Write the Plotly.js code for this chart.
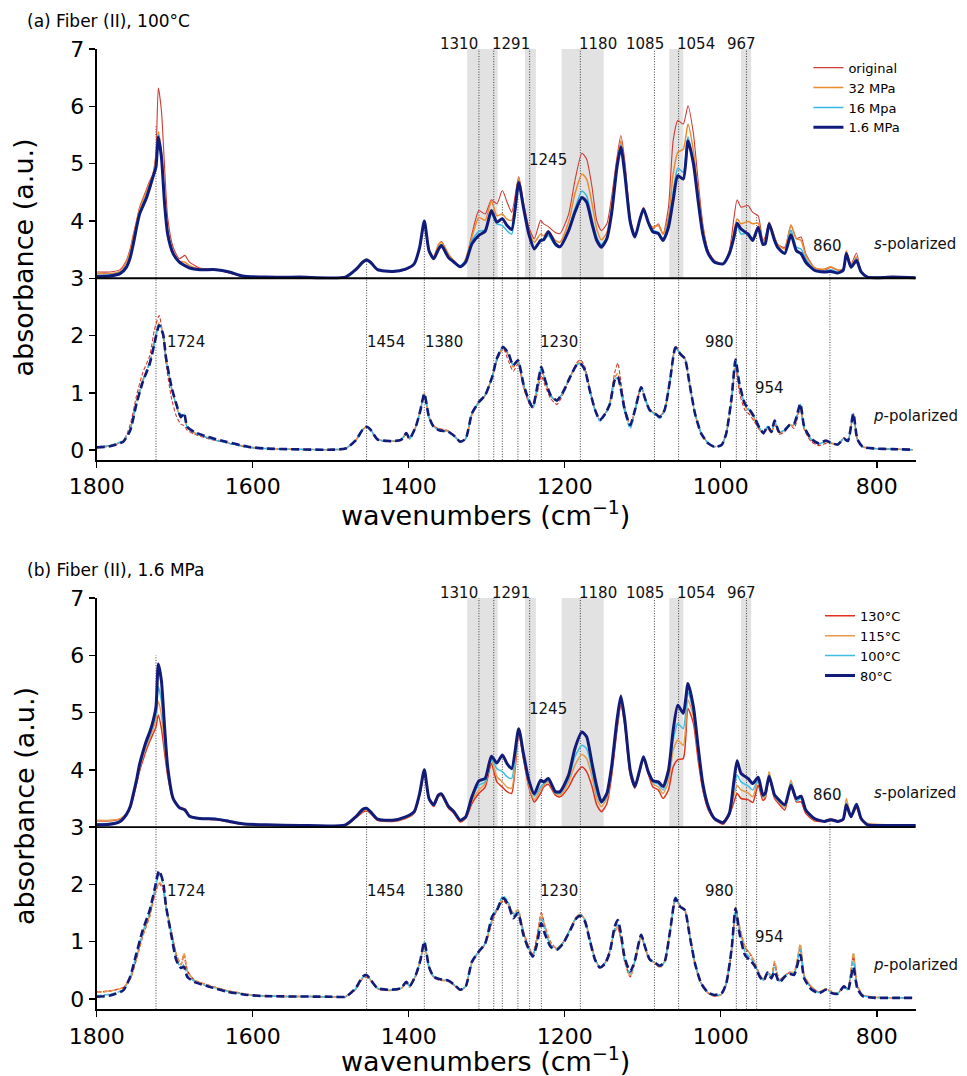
<!DOCTYPE html>
<html>
<head>
<meta charset="utf-8">
<script src="https://cdn.plot.ly/plotly-3.0.1.min.js"></script>
<style>html,body{margin:0;padding:0;background:#fff;}#chart{width:967px;height:1076px;}</style>
</head>
<body>
<div id="chart"></div>
<script>
// ---------- DATA ----------
const wavenumbersS = [
1800,1783,1770,1762,1757,1753,1749,1745,1740,1736,
1732,1728,1724,1721,1717,1713,1709,1702,1694,1687,
1681,1668,1647,1630,1613,1583,1540,1481,1468,1459,
1454,1449,1440,1421,1404,1393,1386,1380,1374,1368,
1362,1358,1349,1342,1334,1327,1319,1310,1302,1294,
1287,1280,1274,1268,1259,1253,1246,1239,1231,1227,
1221,1212,1206,1195,1187,1178,1172,1165,1159,1153,
1146,1140,1133,1128,1123,1116,1110,1104,1099,1093,
1087,1080,1074,1067,1061,1055,1048,1042,1035,1029,
1023,1016,1008,997,989,983,979,974,965,959,
952,946,943,938,931,927,918,910,903,897,
891,880,867,859,850,843,839,833,826,820,
812,800,780,750];

const wavenumbersP = [
1800,1783,1766,1757,1749,1741,1732,1726,1720,1715,
1711,1704,1698,1692,1688,1684,1675,1657,1634,1606,
1583,1498,1481,1468,1459,1454,1449,1440,1425,1410,
1403,1399,1391,1385,1380,1374,1368,1361,1349,1340,
1334,1327,1319,1310,1302,1293,1287,1279,1272,1266,
1260,1253,1246,1241,1236,1230,1225,1218,1210,1202,
1193,1185,1180,1174,1168,1161,1155,1148,1142,1136,
1132,1128,1123,1116,1110,1102,1097,1091,1084,1078,
1072,1065,1058,1052,1046,1040,1033,1025,1016,1008,
999,993,986,981,976,969,963,957,950,945,
940,935,931,925,918,912,906,898,893,884,
874,865,859,850,842,837,830,825,818,803,
780,754];

// (a) Fiber (II), 100 °C — s-polarized absorbance
const aS_original = [
0.11,0.11,0.15,0.31,0.52,0.77,1.00,1.24,1.42,1.56,
1.70,1.82,2.20,3.32,2.92,1.94,1.06,0.54,0.34,0.40,
0.28,0.18,0.15,0.09,0.03,0.02,0.02,0.02,0.16,0.30,
0.34,0.30,0.16,0.11,0.15,0.24,0.53,0.98,0.50,0.38,
0.58,0.64,0.42,0.31,0.20,0.31,0.77,1.18,1.12,1.37,
1.30,1.53,1.33,1.15,1.77,1.33,0.89,0.69,1.01,0.95,
0.90,0.80,0.78,1.12,1.70,2.18,2.08,1.59,1.01,0.83,
0.95,1.41,2.11,2.49,2.05,1.06,0.73,1.01,1.24,0.98,
0.86,0.95,0.77,1.24,2.40,2.75,2.69,3.01,2.52,1.70,
0.95,0.48,0.31,0.25,0.48,1.06,1.37,1.24,1.27,1.15,
1.09,0.66,0.72,0.96,0.72,0.59,0.54,0.93,0.69,0.72,
0.43,0.19,0.14,0.19,0.14,0.16,0.45,0.25,0.44,0.11,
0.02,0.02,0.02,0.01];
const aS_32MPa = [
0.08,0.08,0.12,0.28,0.48,0.72,0.97,1.20,1.38,1.52,
1.66,1.80,2.10,2.55,2.20,1.40,0.85,0.46,0.30,0.28,
0.22,0.16,0.15,0.10,0.03,0.02,0.02,0.02,0.15,0.30,
0.33,0.29,0.15,0.11,0.15,0.24,0.53,0.98,0.50,0.37,
0.58,0.63,0.42,0.30,0.19,0.34,0.72,1.06,1.01,1.35,
1.09,1.12,1.03,1.01,1.73,1.30,0.83,0.63,0.77,0.74,
0.83,0.66,0.63,0.98,1.47,1.82,1.73,1.30,0.86,0.67,
0.80,1.27,2.02,2.40,1.94,1.01,0.73,1.01,1.23,0.98,
0.89,0.92,0.77,1.06,1.82,2.20,2.25,2.69,2.22,1.53,
0.89,0.46,0.30,0.25,0.46,0.83,1.04,0.95,0.99,0.95,
0.96,0.63,0.66,0.98,0.72,0.59,0.51,0.93,0.69,0.66,
0.40,0.18,0.16,0.20,0.15,0.16,0.48,0.22,0.37,0.11,
0.03,0.02,0.02,0.01];
const aS_16MPa = [
0.05,0.06,0.10,0.22,0.40,0.64,0.92,1.15,1.32,1.45,
1.62,1.78,1.98,2.50,2.15,1.35,0.80,0.44,0.28,0.22,
0.18,0.15,0.15,0.11,0.04,0.02,0.02,0.02,0.15,0.29,
0.33,0.28,0.15,0.12,0.16,0.25,0.54,1.00,0.48,0.34,
0.52,0.59,0.37,0.29,0.22,0.31,0.66,0.82,0.84,1.12,
0.95,0.92,0.83,0.77,1.67,1.24,0.80,0.54,0.66,0.67,
0.74,0.57,0.54,0.86,1.21,1.52,1.44,1.03,0.72,0.59,
0.72,1.18,1.97,2.33,1.85,0.98,0.72,1.01,1.21,0.98,
0.84,0.80,0.69,0.98,1.50,1.92,1.85,2.47,2.02,1.41,
0.80,0.44,0.28,0.25,0.43,0.72,0.92,0.77,0.79,0.69,
0.88,0.60,0.61,0.96,0.66,0.54,0.44,0.84,0.54,0.51,
0.34,0.15,0.12,0.15,0.11,0.13,0.44,0.20,0.34,0.11,
0.02,0.02,0.02,0.01];
const aS_1p6MPa = [
0.03,0.04,0.08,0.19,0.36,0.60,0.88,1.12,1.28,1.41,
1.58,1.76,1.94,2.46,2.11,1.30,0.77,0.43,0.28,0.22,
0.18,0.15,0.15,0.11,0.04,0.02,0.02,0.02,0.15,0.28,
0.32,0.28,0.15,0.12,0.16,0.25,0.54,1.00,0.48,0.34,
0.50,0.57,0.36,0.28,0.20,0.28,0.60,0.75,0.82,1.18,
0.98,1.04,0.92,0.85,1.67,1.24,0.77,0.51,0.66,0.67,
0.81,0.60,0.55,0.83,1.15,1.41,1.33,0.95,0.66,0.54,
0.69,1.12,1.94,2.29,1.82,0.98,0.72,1.01,1.21,0.98,
0.81,0.78,0.66,0.89,1.36,1.79,1.73,2.40,2.00,1.35,
0.77,0.43,0.28,0.25,0.43,0.72,0.96,0.86,0.77,0.66,
0.89,0.59,0.60,0.95,0.66,0.54,0.43,0.76,0.48,0.43,
0.28,0.14,0.11,0.12,0.09,0.14,0.43,0.19,0.31,0.11,
0.02,0.01,0.02,0.01];

// (a) p-polarized absorbance
const aP_original = [
0.05,0.07,0.16,0.45,0.95,1.35,1.65,2.10,2.35,2.00,
1.50,0.90,0.60,0.45,0.43,0.35,0.28,0.20,0.13,0.05,
0.03,0.01,0.03,0.17,0.36,0.40,0.35,0.18,0.15,0.17,
0.28,0.20,0.40,0.70,0.97,0.58,0.42,0.38,0.34,0.23,
0.15,0.20,0.62,0.84,0.96,1.28,1.55,1.78,1.55,1.38,
1.50,1.10,0.82,0.74,0.95,1.30,1.12,0.90,0.80,0.98,
1.28,1.52,1.58,1.45,1.08,0.70,0.52,0.64,0.85,1.35,
1.52,1.20,0.75,0.45,0.70,1.10,0.90,0.70,0.64,0.60,
0.70,1.22,1.82,1.70,1.60,1.16,0.64,0.29,0.12,0.06,
0.09,0.28,0.85,1.45,1.00,0.70,0.62,0.50,0.35,0.28,
0.38,0.30,0.45,0.28,0.32,0.45,0.38,0.72,0.36,0.15,
0.08,0.12,0.12,0.09,0.22,0.16,0.62,0.20,0.06,0.03,
0.02,0.01];
const aP_32MPa = [
0.06,0.08,0.16,0.38,0.85,1.22,1.55,1.90,2.22,2.05,
1.60,1.08,0.78,0.56,0.62,0.40,0.31,0.22,0.14,0.06,
0.03,0.01,0.03,0.17,0.36,0.41,0.36,0.19,0.16,0.18,
0.29,0.20,0.41,0.70,0.99,0.58,0.42,0.36,0.33,0.23,
0.15,0.20,0.63,0.84,0.96,1.28,1.58,1.80,1.65,1.45,
1.55,1.14,0.86,0.75,1.02,1.40,1.20,0.95,0.85,1.01,
1.28,1.49,1.53,1.40,1.06,0.70,0.53,0.64,0.82,1.26,
1.34,1.10,0.71,0.43,0.70,1.10,0.90,0.70,0.64,0.59,
0.70,1.22,1.80,1.69,1.60,1.16,0.64,0.29,0.12,0.06,
0.09,0.29,0.90,1.53,1.10,0.77,0.68,0.55,0.37,0.29,
0.41,0.31,0.50,0.31,0.34,0.44,0.43,0.78,0.39,0.18,
0.11,0.15,0.13,0.10,0.21,0.16,0.63,0.20,0.06,0.03,
0.02,0.01];
const aP_16MPa = [
0.06,0.08,0.17,0.37,0.82,1.20,1.52,1.87,2.18,2.02,
1.58,1.08,0.79,0.57,0.63,0.40,0.31,0.21,0.13,0.05,
0.03,0.01,0.03,0.17,0.36,0.41,0.36,0.19,0.16,0.18,
0.30,0.20,0.41,0.70,0.98,0.57,0.41,0.35,0.32,0.22,
0.14,0.20,0.64,0.84,0.96,1.28,1.60,1.80,1.68,1.48,
1.57,1.16,0.86,0.73,1.04,1.44,1.21,0.95,0.86,1.02,
1.28,1.48,1.51,1.39,1.04,0.69,0.51,0.62,0.80,1.22,
1.27,1.05,0.66,0.38,0.68,1.10,0.90,0.70,0.62,0.56,
0.69,1.22,1.79,1.68,1.60,1.16,0.64,0.29,0.12,0.06,
0.09,0.29,0.92,1.56,1.14,0.80,0.70,0.57,0.38,0.30,
0.42,0.32,0.51,0.32,0.35,0.43,0.45,0.80,0.40,0.19,
0.11,0.16,0.13,0.10,0.20,0.16,0.64,0.20,0.06,0.03,
0.02,0.01];
const aP_1p6MPa = [
0.05,0.07,0.15,0.35,0.81,1.19,1.51,1.86,2.18,2.03,
1.60,1.10,0.81,0.58,0.65,0.41,0.32,0.23,0.15,0.06,
0.03,0.01,0.03,0.17,0.36,0.41,0.36,0.19,0.16,0.18,
0.30,0.20,0.41,0.70,0.99,0.58,0.41,0.35,0.32,0.23,
0.15,0.20,0.64,0.84,0.96,1.28,1.60,1.80,1.68,1.48,
1.57,1.16,0.87,0.75,1.05,1.45,1.22,0.96,0.87,1.02,
1.28,1.48,1.51,1.39,1.05,0.70,0.53,0.64,0.81,1.22,
1.28,1.07,0.70,0.44,0.70,1.10,0.90,0.70,0.64,0.58,
0.70,1.22,1.79,1.68,1.60,1.16,0.64,0.29,0.12,0.06,
0.09,0.29,0.93,1.58,1.16,0.81,0.71,0.58,0.38,0.30,
0.42,0.32,0.52,0.32,0.35,0.44,0.46,0.81,0.41,0.20,
0.12,0.17,0.13,0.10,0.20,0.16,0.64,0.20,0.06,0.03,
0.02,0.01];

// (b) Fiber (II), 1.6 MPa — s-polarized absorbance
const bS_130C = [
0.11,0.11,0.14,0.22,0.33,0.52,0.75,0.98,1.20,1.36,
1.50,1.62,1.75,1.96,1.72,1.30,0.90,0.48,0.34,0.32,
0.20,0.15,0.13,0.09,0.05,0.04,0.03,0.03,0.16,0.26,
0.28,0.24,0.12,0.10,0.15,0.24,0.55,0.96,0.48,0.36,
0.53,0.55,0.33,0.24,0.09,0.15,0.41,0.59,0.70,1.11,
0.79,0.70,0.62,0.59,1.64,1.20,0.70,0.44,0.59,0.70,
0.75,0.56,0.53,0.70,0.91,1.05,0.97,0.71,0.39,0.27,
0.41,0.88,1.69,2.13,1.78,0.91,0.68,0.97,1.20,0.94,
0.70,0.65,0.50,0.65,1.05,1.18,1.20,2.07,1.81,1.17,
0.65,0.30,0.14,0.05,0.21,0.44,0.59,0.50,0.48,0.43,
0.73,0.47,0.50,0.88,0.50,0.43,0.30,0.73,0.44,0.44,
0.24,0.11,0.10,0.12,0.10,0.12,0.41,0.18,0.34,0.13,
0.05,0.04,0.03,0.03];
const bS_115C = [
0.12,0.12,0.15,0.24,0.35,0.55,0.78,1.02,1.26,1.42,
1.56,1.70,1.88,2.20,1.95,1.45,0.95,0.50,0.34,0.31,
0.20,0.15,0.14,0.10,0.05,0.04,0.03,0.03,0.17,0.28,
0.30,0.25,0.13,0.11,0.16,0.25,0.57,0.98,0.49,0.37,
0.54,0.56,0.34,0.25,0.11,0.16,0.46,0.65,0.76,1.17,
0.88,0.79,0.70,0.68,1.66,1.23,0.73,0.48,0.65,0.73,
0.79,0.59,0.56,0.79,1.08,1.27,1.20,0.88,0.50,0.36,
0.50,0.97,1.78,2.19,1.81,0.94,0.69,0.98,1.22,0.95,
0.76,0.70,0.59,0.79,1.34,1.52,1.43,2.22,1.93,1.26,
0.69,0.33,0.15,0.07,0.23,0.56,0.73,0.65,0.60,0.53,
0.82,0.52,0.53,0.97,0.53,0.46,0.35,0.82,0.50,0.50,
0.27,0.13,0.11,0.15,0.11,0.13,0.50,0.19,0.37,0.14,
0.07,0.05,0.04,0.04];
const bS_100C = [
0.06,0.07,0.11,0.22,0.36,0.57,0.80,1.05,1.30,1.46,
1.60,1.77,1.96,2.45,2.20,1.55,1.00,0.50,0.34,0.30,
0.19,0.16,0.15,0.11,0.06,0.04,0.03,0.04,0.18,0.30,
0.32,0.26,0.14,0.12,0.17,0.26,0.58,0.99,0.50,0.38,
0.56,0.57,0.36,0.26,0.12,0.17,0.50,0.73,0.79,1.20,
1.02,0.97,0.88,0.85,1.70,1.26,0.79,0.54,0.70,0.76,
0.82,0.60,0.59,0.85,1.23,1.43,1.37,0.99,0.59,0.42,
0.54,1.01,1.84,2.25,1.84,0.97,0.70,0.99,1.23,0.97,
0.79,0.75,0.65,0.91,1.52,1.81,1.72,2.36,2.01,1.35,
0.74,0.34,0.15,0.08,0.23,0.68,0.91,0.79,0.72,0.65,
0.83,0.54,0.56,0.91,0.54,0.47,0.37,0.77,0.46,0.50,
0.29,0.14,0.11,0.14,0.10,0.14,0.41,0.18,0.39,0.15,
0.05,0.04,0.04,0.03];
const bS_80C = [
0.04,0.05,0.10,0.22,0.36,0.58,0.82,1.10,1.35,1.52,
1.66,1.84,2.10,2.85,2.55,1.75,1.05,0.50,0.34,0.30,
0.19,0.15,0.14,0.10,0.06,0.04,0.03,0.04,0.18,0.31,
0.33,0.27,0.14,0.12,0.18,0.27,0.59,1.00,0.50,0.39,
0.56,0.58,0.36,0.27,0.12,0.18,0.53,0.81,0.85,1.24,
1.12,1.26,1.11,1.02,1.72,1.29,0.82,0.58,0.82,0.79,
0.85,0.62,0.62,0.91,1.37,1.66,1.58,1.11,0.71,0.44,
0.59,1.05,1.87,2.29,1.87,0.99,0.71,0.99,1.23,0.97,
0.81,0.79,0.71,0.99,1.69,2.13,1.99,2.51,2.10,1.40,
0.76,0.36,0.15,0.08,0.24,0.82,1.16,0.94,0.85,0.76,
0.87,0.56,0.59,0.89,0.56,0.50,0.39,0.73,0.50,0.54,
0.30,0.15,0.10,0.13,0.10,0.14,0.39,0.18,0.40,0.15,
0.04,0.03,0.03,0.03];

// (b) p-polarized absorbance
const bP_130C = [
0.12,0.14,0.20,0.35,0.70,1.10,1.45,1.80,2.02,1.92,
1.60,1.15,0.78,0.60,0.78,0.50,0.33,0.24,0.15,0.08,
0.05,0.04,0.04,0.17,0.36,0.38,0.33,0.18,0.15,0.18,
0.28,0.21,0.40,0.66,0.97,0.55,0.38,0.33,0.31,0.22,
0.15,0.22,0.63,0.83,0.96,1.35,1.55,1.72,1.62,1.50,
1.55,1.18,0.90,0.78,1.05,1.50,1.25,0.99,0.88,0.99,
1.22,1.43,1.48,1.38,1.05,0.70,0.55,0.65,0.85,1.18,
1.24,1.05,0.65,0.39,0.65,1.10,0.90,0.68,0.63,0.55,
0.65,1.18,1.72,1.63,1.55,1.12,0.62,0.27,0.10,0.05,
0.08,0.26,0.85,1.52,1.25,0.90,0.80,0.65,0.42,0.33,
0.45,0.40,0.62,0.33,0.40,0.46,0.45,0.90,0.40,0.21,
0.12,0.18,0.13,0.10,0.22,0.17,0.75,0.24,0.07,0.03,
0.02,0.02];
const bP_115C = [
0.12,0.14,0.20,0.36,0.72,1.12,1.47,1.82,2.04,1.95,
1.62,1.16,0.78,0.60,0.80,0.50,0.33,0.24,0.15,0.08,
0.05,0.04,0.04,0.18,0.37,0.39,0.33,0.18,0.15,0.18,
0.29,0.21,0.41,0.67,0.98,0.55,0.38,0.34,0.31,0.22,
0.15,0.22,0.64,0.83,0.96,1.38,1.56,1.75,1.64,1.50,
1.55,1.17,0.89,0.77,1.03,1.48,1.24,0.97,0.88,0.99,
1.22,1.43,1.48,1.38,1.05,0.70,0.55,0.64,0.84,1.20,
1.26,1.07,0.67,0.40,0.66,1.10,0.90,0.68,0.63,0.56,
0.65,1.18,1.74,1.62,1.55,1.12,0.62,0.27,0.10,0.05,
0.08,0.27,0.88,1.60,1.28,0.92,0.80,0.66,0.43,0.34,
0.46,0.42,0.66,0.34,0.41,0.47,0.47,0.96,0.42,0.22,
0.12,0.18,0.14,0.10,0.22,0.17,0.81,0.25,0.07,0.03,
0.02,0.02];
const bP_100C = [
0.06,0.08,0.16,0.38,0.78,1.17,1.52,1.88,2.18,2.02,
1.60,1.10,0.70,0.55,0.60,0.42,0.31,0.22,0.14,0.07,
0.05,0.04,0.04,0.18,0.38,0.41,0.34,0.19,0.16,0.19,
0.29,0.22,0.42,0.68,0.99,0.56,0.39,0.35,0.32,0.23,
0.16,0.22,0.65,0.83,0.97,1.42,1.58,1.80,1.68,1.46,
1.53,1.14,0.87,0.75,0.98,1.40,1.18,0.94,0.87,0.98,
1.21,1.42,1.47,1.37,1.04,0.69,0.55,0.63,0.84,1.22,
1.30,1.10,0.69,0.44,0.67,1.11,0.91,0.69,0.63,0.57,
0.65,1.18,1.78,1.63,1.56,1.12,0.62,0.27,0.11,0.06,
0.09,0.27,0.88,1.58,1.20,0.83,0.73,0.62,0.40,0.33,
0.46,0.38,0.55,0.31,0.40,0.45,0.44,0.86,0.38,0.19,
0.11,0.17,0.12,0.10,0.22,0.16,0.66,0.21,0.06,0.03,
0.02,0.02];
const bP_80C = [
0.04,0.06,0.15,0.39,0.80,1.20,1.55,1.90,2.24,2.05,
1.61,1.09,0.68,0.54,0.56,0.39,0.30,0.22,0.13,0.07,
0.05,0.04,0.04,0.19,0.39,0.42,0.34,0.19,0.16,0.19,
0.30,0.22,0.42,0.68,1.00,0.56,0.39,0.35,0.32,0.23,
0.16,0.22,0.65,0.83,0.97,1.44,1.55,1.76,1.64,1.41,
1.50,1.12,0.86,0.74,0.94,1.32,1.12,0.91,0.86,0.97,
1.20,1.41,1.45,1.35,1.03,0.68,0.55,0.62,0.83,1.26,
1.38,1.15,0.71,0.48,0.68,1.12,0.91,0.69,0.63,0.58,
0.65,1.18,1.76,1.61,1.55,1.12,0.62,0.27,0.11,0.07,
0.10,0.27,0.88,1.58,1.15,0.77,0.68,0.59,0.39,0.32,
0.46,0.36,0.48,0.29,0.39,0.44,0.42,0.77,0.36,0.17,
0.10,0.16,0.11,0.09,0.22,0.15,0.56,0.19,0.05,0.02,
0.02,0.02];

const seriesNamesA = ['original', '32 MPa', '16 Mpa', '1.6 MPa'];
const seriesNamesB = ['130°C', '115°C', '100°C', '80°C'];
const markerWavenumbers = [1724, 1454, 1380, 1310, 1291, 1280, 1260, 1245, 1230, 1180, 1085, 1054, 980, 967, 954, 860];
const shadedBands = [[1325, 1286], [1251, 1237], [1204, 1150], [1066, 1048], [974, 961]];
const topLabels = ['1310', '1291', '1180', '1085', '1054', '967'];

// ---------- STYLE / LAYOUT ----------
const S_OFFSET = 3;
const FONT = 'DejaVu Sans, Verdana, sans-serif';
const stylesA = [
  {color: '#cf3b35', width: 1.1, dash: '4px,2px'},
  {color: '#ec8a2e', width: 1.5, dash: '5px,2px'},
  {color: '#35b6e4', width: 1.5, dash: '5px,2px'},
  {color: '#101c7c', width: 3.0, dash: '8px,4px'}
];
const stylesB = [
  {color: '#e0321f', width: 1.5, dash: '4px,2px'},
  {color: '#e59a4c', width: 1.5, dash: '5px,2px'},
  {color: '#3cbfe3', width: 1.5, dash: '5px,2px'},
  {color: '#121c78', width: 3.0, dash: '8px,4px'}
];

function makeTraces(sSets, pSets, names, styles, xa, ya, legendId) {
  const out = [];
  sSets.forEach((vals, i) => {
    out.push({
      type: 'scatter', mode: 'lines', x: wavenumbersS, y: vals.map(v => v + S_OFFSET),
      name: names[i], legend: legendId, xaxis: xa, yaxis: ya,
      line: {color: styles[i].color, width: styles[i].width, shape: 'spline', smoothing: 0.6},
      hoverinfo: 'skip'
    });
  });
  pSets.forEach((vals, i) => {
    out.push({
      type: 'scatter', mode: 'lines', x: wavenumbersP, y: vals,
      name: names[i] + ' (p)', showlegend: false, xaxis: xa, yaxis: ya,
      line: {color: styles[i].color, width: Math.min(styles[i].width, 2.6), dash: styles[i].dash, shape: 'spline', smoothing: 0.6},
      hoverinfo: 'skip'
    });
  });
  return out;
}

const traces = [].concat(
  makeTraces([aS_original, aS_32MPa, aS_16MPa, aS_1p6MPa], [aP_original, aP_32MPa, aP_16MPa, aP_1p6MPa], seriesNamesA, stylesA, 'x', 'y', 'legend'),
  makeTraces([bS_130C, bS_115C, bS_100C, bS_80C], [bP_130C, bP_115C, bP_100C, bP_80C], seriesNamesB, stylesB, 'x2', 'y2', 'legend2')
);

// marker line tops (data units) for each panel
const lineTopsA = [5.65, 3.3, 3.95, 7, 7, 4.35, 4.7, 7, 4.0, 7, 7, 7, 3.98, 7, 4.1, 3.17];
const lineTopsB = [6.0, 3.33, 4.0, 7, 7, 4.2, 4.7, 7, 4.0, 7, 7, 7, 4.1, 7, 4.0, 3.15];
// x positions (wavenumber) of the centres of the labels above the plot
const topLabelX = [1336, 1269, 1157, 1097, 1032, 973];

function panelShapes(xr, yr, yBottom, tops) {
  const sh = [];
  shadedBands.forEach(b => sh.push({type: 'rect', xref: xr, yref: yr, x0: b[0], x1: b[1], y0: S_OFFSET, y1: 7,
    fillcolor: '#e2e2e2', line: {width: 0}, layer: 'below'}));
  markerWavenumbers.forEach((w, i) => sh.push({type: 'line', xref: xr, yref: yr, x0: w, x1: w, y0: yBottom, y1: tops[i],
    line: {color: 'rgba(20,20,20,0.9)', width: 0.9, dash: '1px,1.6px'}, layer: 'below'}));
  sh.push({type: 'line', xref: xr, yref: yr, x0: 1800, x1: 750, y0: S_OFFSET, y1: S_OFFSET,
    line: {color: 'black', width: 1.8}, layer: 'above'});
  return sh;
}

function panelAnnotations(xr, yr) {
  const f = {family: FONT, size: 15, color: '#111'};
  const a = (text, x, y, extra) => Object.assign({text, x, y, xref: xr, yref: yr, showarrow: false, font: f,
    xanchor: 'center', yanchor: 'middle'}, extra || {});
  const tops = topLabels.map((t, i) => a(t, topLabelX[i], 1.012, {yref: yr + ' domain'}));
  return tops.concat([
    a('1245', 1222, 5.07), a('860', 863, 3.57),
    a('<i>s</i>-polarized', 751, 3.59), a('<i>p</i>-polarized', 750, 0.59),
    a('1724', 1686, 1.88), a('1454', 1429, 1.88), a('1380', 1355, 1.88), a('1230', 1207, 1.88),
    a('980', 1001, 1.88), a('954', 938, 1.08)
  ]);
}

const axisX = (anchor) => ({
  domain: [0.1, 0.947], range: [1800, 750], anchor: anchor,
  tickvals: [1800, 1600, 1400, 1200, 1000, 800], ticks: 'outside', ticklen: 6, tickwidth: 1.5, tickcolor: 'black',
  showline: true, linecolor: 'black', linewidth: 2, showgrid: false, zeroline: false,
  tickfont: {family: FONT, size: 22, color: 'black'}
});
const axisY = (anchor, domain, range) => ({
  domain: domain, range: range, anchor: anchor,
  tickvals: [0, 1, 2, 3, 4, 5, 6, 7], ticks: 'outside', ticklen: 6, tickwidth: 1.5, tickcolor: 'black',
  showline: true, linecolor: 'black', linewidth: 2, showgrid: false, zeroline: false,
  tickfont: {family: FONT, size: 22, color: 'black'}
});

const paperText = (text, x, y, size, extra) => Object.assign({text, x, y, xref: 'paper', yref: 'paper', showarrow: false,
  font: {family: FONT, size: size, color: 'black'}}, extra || {});

const layout = {
  width: 967, height: 1076,
  margin: {l: 0, r: 0, t: 0, b: 0},
  paper_bgcolor: 'white', plot_bgcolor: 'white',
  font: {family: FONT, color: 'black'},
  xaxis: axisX('y'),
  yaxis: axisY('x', [0.5725, 0.9545], [-0.17, 7]),
  xaxis2: axisX('y2'),
  yaxis2: axisY('x2', [0.062, 0.4442], [-0.18, 7]),
  legend: {x: 0.836, y: 0.951, xanchor: 'left', yanchor: 'top', bgcolor: 'rgba(255,255,255,0)',
    font: {family: FONT, size: 13, color: 'black'}, itemwidth: 30, tracegroupgap: 0},
  legend2: {x: 0.848, y: 0.4416, xanchor: 'left', yanchor: 'top', bgcolor: 'rgba(255,255,255,0)',
    font: {family: FONT, size: 13, color: 'black'}, itemwidth: 30, tracegroupgap: 0},
  shapes: [].concat(panelShapes('x', 'y', -0.17, lineTopsA), panelShapes('x2', 'y2', -0.18, lineTopsB)),
  annotations: [].concat(
    panelAnnotations('x', 'y'),
    panelAnnotations('x2', 'y2'),
    [
      paperText('(a) Fiber (II), 100°C', 0.0259, 0.9805, 17, {xanchor: 'left', yanchor: 'middle'}),
      paperText('(b) Fiber (II), 1.6 MPa', 0.0259, 0.4703, 17, {xanchor: 'left', yanchor: 'middle'}),
      paperText('absorbance (a.u.)', 0.0248, 0.7607, 27, {textangle: -90, xanchor: 'center', yanchor: 'middle'}),
      paperText('absorbance (a.u.)', 0.0248, 0.2509, 27, {textangle: -90, xanchor: 'center', yanchor: 'middle'}),
      paperText('wavenumbers (cm<sup>−1</sup>)', 0.5016, 0.5232, 27, {xanchor: 'center', yanchor: 'middle'}),
      paperText('wavenumbers (cm<sup>−1</sup>)', 0.5016, 0.0155, 27, {xanchor: 'center', yanchor: 'middle'})
    ]
  )
};

Plotly.newPlot('chart', traces, layout, {staticPlot: true, displayModeBar: false});
</script>
</body>
</html>
